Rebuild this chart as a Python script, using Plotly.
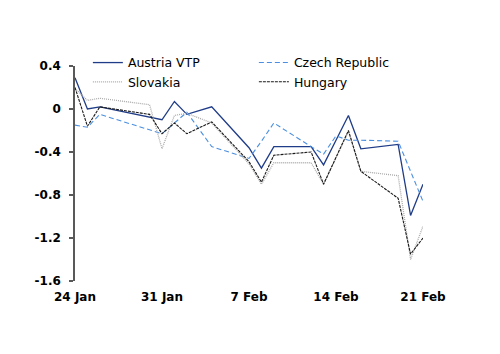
import plotly.graph_objects as go

dates = ["2022-01-24", "2022-01-25", "2022-01-26", "2022-01-30", "2022-01-31",
         "2022-02-01", "2022-02-02", "2022-02-04", "2022-02-07", "2022-02-08",
         "2022-02-09", "2022-02-12", "2022-02-13", "2022-02-14", "2022-02-15",
         "2022-02-16", "2022-02-19", "2022-02-20", "2022-02-21"]

austria = [0.29, 0.00, 0.02, -0.08, -0.10, 0.07, -0.05, 0.02, -0.36, -0.55,
           -0.35, -0.35, -0.52, -0.29, -0.06, -0.37, -0.33, -0.99, -0.70]
czech = [-0.15, -0.17, -0.05, -0.19, -0.23, -0.13, -0.03, -0.35, -0.46, -0.30,
         -0.13, -0.35, -0.42, -0.25, -0.29, -0.29, -0.30, -0.58, -0.86]
slovakia = [0.19, 0.08, 0.10, 0.04, -0.37, -0.06, -0.04, -0.13, -0.51, -0.70,
            -0.50, -0.50, -0.70, -0.45, -0.21, -0.58, -0.62, -1.40, -1.09]
hungary = [0.20, -0.16, 0.02, -0.05, -0.23, -0.13, -0.23, -0.12, -0.49, -0.68,
           -0.43, -0.40, -0.70, -0.45, -0.20, -0.58, -0.83, -1.35, -1.20]

x_ticks = ["2022-01-24", "2022-01-31", "2022-02-07", "2022-02-14", "2022-02-21"]
x_ticktext = ["24 Jan", "31 Jan", "7 Feb", "14 Feb", "21 Feb"]
y_ticks = [0.4, 0, -0.4, -0.8, -1.2, -1.6]
y_ticktext = ["0.4", "0", "-0.4", "-0.8", "-1.2", "-1.6"]

FONT = "DejaVu Sans"
AXC = "#595959"

series = [
    ("Austria VTP", austria, dict(color="#1f3c88", width=1.3)),
    ("Czech Republic", czech, dict(color="#4a8fe0", width=1.1, dash="5px,3px")),
    ("Slovakia", slovakia, dict(color="#aaaaaa", width=1.3, dash="1px,1px")),
    ("Hungary", hungary, dict(color="#1a1a1a", width=1.1, dash="3px,1px")),
]

fig = go.Figure()
for name, vals, line in series:
    fig.add_trace(go.Scatter(x=dates, y=vals, name=name, mode="lines", line=line))

xr = ["2022-01-24", "2022-02-21"]
fig.update_layout(
    width=500, height=354,
    margin=dict(l=75, r=77, t=66, b=73),
    plot_bgcolor="white", paper_bgcolor="white",
    font=dict(family=FONT, size=12, color="black"),
    showlegend=True,
    legend=dict(orientation="h", x=0.037, y=1.084, xanchor="left", yanchor="top",
                entrywidth=121, entrywidthmode="pixels",
                font=dict(family=FONT, size=12.5, color="black"),
                bgcolor="rgba(0,0,0,0)", traceorder="normal"),
    xaxis=dict(type="date", range=xr, tickvals=x_ticks, ticktext=x_ticktext,
               showline=False, ticks="", showgrid=False, zeroline=False,
               tickfont=dict(family=FONT, size=12, color="black", weight="bold"),
               ticklabelstandoff=7),
    xaxis2=dict(type="date", range=xr, overlaying="x", anchor="free", position=0.8,
                side="bottom", tickvals=x_ticks, showticklabels=False,
                showline=True, linecolor=AXC, linewidth=1.6, ticks="outside",
                ticklen=4, tickwidth=1.5, tickcolor=AXC, showgrid=False, zeroline=False),
    yaxis=dict(range=[-1.6, 0.4], tickvals=y_ticks, ticktext=y_ticktext,
               showline=True, linecolor=AXC, linewidth=1.6, ticks="outside",
               ticklen=4, tickwidth=1.5, tickcolor=AXC, showgrid=False, zeroline=False,
               tickfont=dict(family=FONT, size=12, color="black", weight="bold"),
               ticklabelstandoff=6),
)

fig.write_html("out.html")
